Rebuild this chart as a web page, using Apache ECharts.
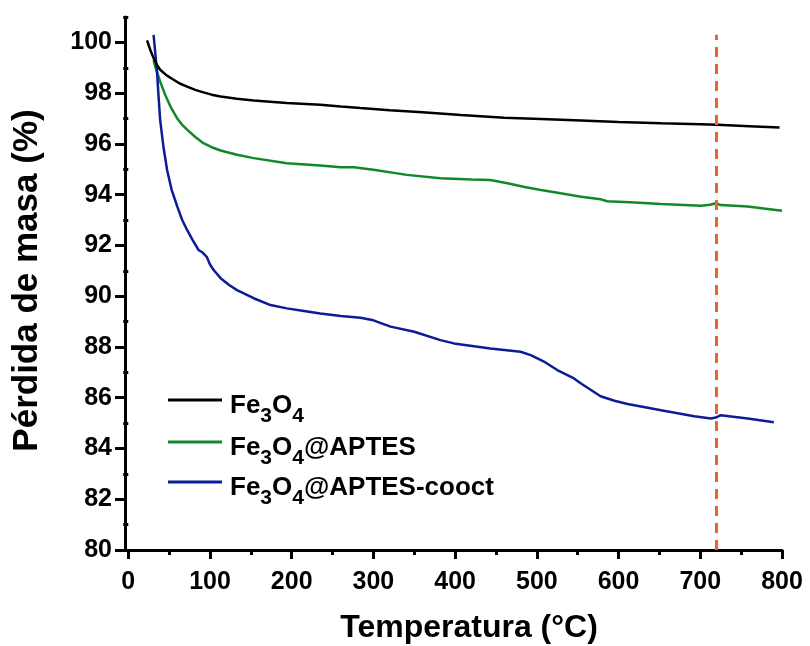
<!DOCTYPE html>
<html>
<head>
<meta charset="utf-8">
<script src="https://cdn.jsdelivr.net/npm/echarts@6/dist/echarts.min.js"></script>
<style>html,body{margin:0;padding:0;background:#fff;}#c{width:810px;height:646px;}</style>
</head>
<body>
<div id="c"></div>
<script>
// ---- data ----
var seriesNames = ['Fe3O4', 'Fe3O4@APTES', 'Fe3O4@APTES-cooct'];
var fe3o4 = [[23,100.08],[27,99.7],[31,99.38],[35,99.12],[39,98.92],[47,98.7],[55.5,98.53],[63,98.38],[72,98.26],[82,98.13],[92,98.03],[102,97.94],[113,97.87],[133,97.78],[153.5,97.71],[194,97.61],[235,97.54],[260,97.47],[284,97.41],[320,97.33],[360,97.25],[407,97.14],[460,97.03],[505,96.98],[554,96.92],[600,96.86],[652,96.81],[700,96.77],[721,96.75],[760,96.7],[797,96.65]];
var fe3o4Aptes = [[31,99.3],[33,99.05],[36,98.75],[39,98.46],[45,97.95],[51.5,97.48],[60,97.0],[66,96.75],[72,96.56],[82,96.27],[92,96.03],[102,95.87],[113,95.74],[133,95.57],[153.5,95.44],[194,95.24],[235,95.15],[260,95.08],[276,95.08],[300,94.98],[341,94.78],[382,94.65],[420,94.6],[443,94.58],[464,94.45],[485,94.3],[505,94.18],[529,94.06],[554,93.92],[578,93.82],[586,93.74],[620,93.69],[652,93.63],[701,93.56],[712,93.6],[719,93.66],[725,93.59],[758,93.53],[800,93.37]];
var fe3o4AptesCooct = [[31,100.3],[33,99.6],[35,98.92],[37,97.9],[39,96.95],[43,95.9],[47.5,94.97],[53,94.2],[60,93.53],[66,93.0],[72,92.61],[79,92.2],[86,91.82],[91,91.72],[96,91.55],[100,91.25],[104.5,91.03],[113,90.71],[123,90.45],[133,90.24],[153.5,89.92],[174,89.65],[194,89.52],[215,89.42],[235,89.32],[260,89.22],[284,89.15],[300,89.05],[321,88.8],[350,88.6],[382,88.27],[398.5,88.14],[443,87.94],[480,87.81],[492.5,87.68],[510,87.4],[525,87.09],[545.5,86.76],[554,86.56],[578,86.06],[595,85.88],[611,85.75],[652,85.51],[692.5,85.27],[713,85.18],[719,85.22],[725,85.31],[758,85.18],[790,85.03]];
var refLineX = 720;
var refLineY = [80, 100.3];
var xMajorTicks = [0,100,200,300,400,500,600,700,800];
var xMinorTicks = [50,150,250,350,450,550,650,750];
var yMajorTicks = [80,82,84,86,88,90,92,94,96,98,100];
var yMinorTicks = [81,83,85,87,89,91,93,95,97,99,101];
var xTitle = 'Temperatura (°C)';
var yTitle = 'Pérdida de masa (%)';

// ---- chart ----
var FONT = '"Liberation Sans", Arial, sans-serif';
var colors = ['#000000', '#11892a', '#0c1c96'];
var chart = echarts.init(document.getElementById('c'), null, {renderer: 'canvas'});

function legendLabel(name) {
  var m = name.match(/^Fe3O4(.*)$/);
  var rest = m ? m[1] : name;
  var s = '{m|Fe}{s|3}{m|O}{s|4}';
  if (rest) s += '{m|' + rest + '}';
  return s;
}
var richLegend = {
  m: {fontSize: 26, lineHeight: 26, fontWeight: 'bold', fontFamily: FONT, color: '#000', padding: [12, 0, 0, 0]},
  s: {fontSize: 21, lineHeight: 21, fontWeight: 'bold', fontFamily: FONT, color: '#000', padding: [33, 0, 0, 0]}
};
function makeLegend(i, top) {
  return {
    data: [seriesNames[i]], left: 168, top: top, orient: 'vertical', padding: 0,
    icon: 'rect', itemWidth: 54, itemHeight: 3, itemGap: 0,
    formatter: function (n) { return legendLabel(n); },
    textStyle: {fontSize: 26, fontWeight: 'bold', fontFamily: FONT, color: '#000', padding: [0,0,0,3], rich: richLegend},
    selectedMode: false
  };
}

var axisLineStyle = {color: '#000', width: 3};
var option = {
  animation: false,
  backgroundColor: '#fff',
  textStyle: {fontFamily: FONT},
  color: colors,
  grid: [{left: 125, right: 28, top: 17, bottom: 96, containLabel: false, outerBoundsMode: 'none'}],
  legend: [makeLegend(0, 373), makeLegend(1, 415), makeLegend(2, 455)],
  xAxis: [{
    type: 'value', min: -4, max: 800,
    name: xTitle, nameLocation: 'middle', nameGap: 62,
    nameTextStyle: {fontSize: 32, fontWeight: 'bold', color: '#000', fontFamily: FONT, padding: [0,0,0,31]},
    axisLine: {onZero: false, lineStyle: axisLineStyle},
    axisTick: {show: true, inside: false, length: 9, lineStyle: {color: '#000', width: 3}, customValues: xMajorTicks},
    axisLabel: {fontSize: 25, fontWeight: 'bold', color: '#000', margin: 20, customValues: xMajorTicks},
    splitLine: {show: false}
  }, {
    type: 'value', min: -4, max: 800, position: 'bottom',
    axisLine: {show: false},
    axisTick: {show: true, length: 5, lineStyle: {color: '#000', width: 3}, customValues: xMinorTicks},
    axisLabel: {show: false},
    splitLine: {show: false}
  }],
  yAxis: [{
    type: 'value', min: 80, max: 101,
    name: yTitle, nameLocation: 'middle', nameGap: 80, nameRotate: 90,
    nameTextStyle: {fontSize: 35, fontWeight: 'bold', color: '#000', fontFamily: FONT, padding: [0,0,0,6]},
    axisLine: {onZero: false, lineStyle: axisLineStyle},
    axisTick: {show: true, length: 10, lineStyle: {color: '#000', width: 3}, customValues: yMajorTicks},
    axisLabel: {fontSize: 25, fontWeight: 'bold', color: '#000', margin: 13, customValues: yMajorTicks},
    splitLine: {show: false}
  }, {
    type: 'value', min: 80, max: 101, position: 'left',
    axisLine: {show: false},
    axisTick: {show: true, length: 5, lineStyle: {color: '#000', width: 3}, customValues: yMinorTicks},
    axisLabel: {show: false},
    splitLine: {show: false}
  }],
  series: [{
    name: seriesNames[0], type: 'line', data: fe3o4, showSymbol: false, symbol: 'none',
    lineStyle: {width: 2.5, color: colors[0]}, z: 3
  }, {
    name: seriesNames[1], type: 'line', data: fe3o4Aptes, showSymbol: false, symbol: 'none',
    lineStyle: {width: 2.5, color: colors[1]}, z: 2
  }, {
    name: seriesNames[2], type: 'line', data: fe3o4AptesCooct, showSymbol: false, symbol: 'none',
    lineStyle: {width: 2.5, color: colors[2]}, z: 2,
    markLine: {
      silent: true, symbol: 'none', animation: false,
      label: {show: false},
      lineStyle: {type: [10, 7], color: '#f5602a', width: 3},
      data: [[{coord: [refLineX, refLineY[0]]}, {coord: [refLineX, refLineY[1]]}]]
    }
  }]
};
chart.setOption(option);
</script>
</body>
</html>
